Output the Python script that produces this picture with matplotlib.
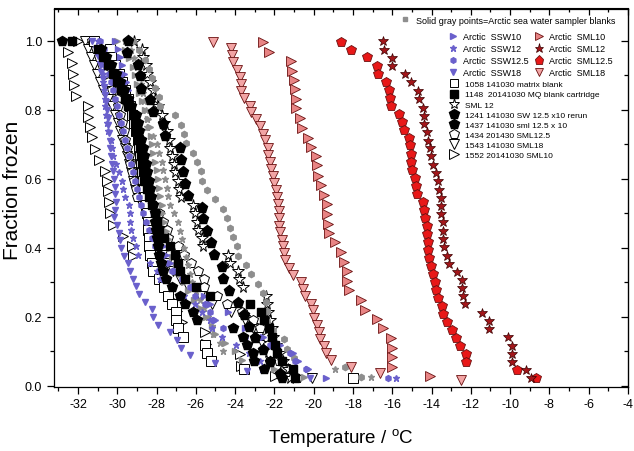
import matplotlib
matplotlib.use("Agg")
import matplotlib.pyplot as plt
from matplotlib.lines import Line2D
from matplotlib.ticker import MultipleLocator

plt.rcParams['font.family'] = ['Liberation Sans', 'DejaVu Sans']

# ---------------- data (Temperature / degC, fraction frozen) ----------------
F42 = [1.000, 0.976, 0.952, 0.929, 0.905, 0.881, 0.857, 0.833, 0.810, 0.786,
       0.762, 0.738, 0.714, 0.690, 0.667, 0.643, 0.619, 0.595, 0.571, 0.548,
       0.524, 0.500, 0.476, 0.452, 0.429, 0.405, 0.381, 0.357, 0.333, 0.310,
       0.286, 0.262, 0.238, 0.214, 0.190, 0.167, 0.143, 0.119, 0.095, 0.071,
       0.048, 0.024]

# Arctic SML12 (dark red stars)
sml12_T = [-16.49, -16.43, -16.02, -15.99, -15.37, -15.07, -14.70, -14.63, -14.46, -14.39,
           -14.36, -14.22, -14.19, -14.09, -14.05, -13.92, -13.75, -13.68, -13.64, -13.54,
           -13.51, -13.51, -13.44, -13.44, -13.41, -13.37, -13.20, -13.10, -12.73, -12.47,
           -12.46, -12.42, -12.29, -11.44, -11.07, -11.07, -10.12, -9.91, -9.91, -9.91,
           -9.20, -8.93]
sml12_F = [0.999, 0.975, 0.951, 0.928, 0.904, 0.880, 0.856, 0.832, 0.807, 0.783,
           0.759, 0.735, 0.711, 0.689, 0.666, 0.641, 0.617, 0.594, 0.569, 0.545,
           0.523, 0.499, 0.474, 0.450, 0.426, 0.402, 0.378, 0.354, 0.331, 0.308,
           0.284, 0.260, 0.237, 0.212, 0.188, 0.165, 0.141, 0.117, 0.093, 0.069,
           0.047, 0.022]

# Arctic SML12.5 (red pentagons)
sml125_T = [-18.60, -18.12, -17.28, -16.77, -16.73, -16.33, -16.16, -16.12, -16.09, -15.65,
            -15.51, -15.41, -15.14, -15.10, -15.07, -15.07, -15.00, -14.83, -14.80, -14.73,
            -14.46, -14.36, -14.32, -14.25, -14.22, -14.19, -14.19, -14.12, -14.02, -13.95,
            -13.82, -13.75, -13.68, -13.48, -13.44, -13.20, -12.97, -12.76, -12.56, -12.25,
            -12.25, -9.67, -8.66]
sml125_F = [0.998, 0.975, 0.952, 0.928, 0.905, 0.882, 0.859, 0.835, 0.812, 0.788,
            0.766, 0.743, 0.720, 0.697, 0.673, 0.650, 0.627, 0.604, 0.581, 0.557,
            0.534, 0.510, 0.488, 0.465, 0.441, 0.418, 0.395, 0.372, 0.347, 0.324,
            0.301, 0.277, 0.254, 0.231, 0.208, 0.185, 0.161, 0.138, 0.115, 0.092,
            0.069, 0.045, 0.022]

# Arctic SML10 (pink right triangles)
sml10_T = [-22.57, -22.26, -21.14, -21.11, -21.01, -20.94, -20.91, -20.91, -20.70, -20.57,
           -20.30, -20.13, -19.89, -19.82, -19.79, -19.62, -19.45, -19.34, -19.31, -19.28,
           -19.24, -18.94, -18.60, -18.46, -18.33, -18.29, -18.19, -17.61, -17.38, -16.80,
           -16.46, -16.09, -16.02, -16.02, -16.02, -14.09]
sml10_F = [0.998, 0.969, 0.943, 0.914, 0.887, 0.860, 0.832, 0.805, 0.776, 0.749,
           0.720, 0.693, 0.666, 0.639, 0.610, 0.583, 0.554, 0.527, 0.498, 0.470,
           0.443, 0.417, 0.388, 0.360, 0.333, 0.304, 0.277, 0.250, 0.221, 0.194,
           0.167, 0.138, 0.111, 0.084, 0.055, 0.028]

# Arctic SML18 (pink down triangles)
sml18_T = [-25.11, -24.23, -24.16, -24.13, -23.92, -23.76, -23.69, -23.69, -23.55, -23.25,
           -23.18, -22.94, -22.74, -22.60, -22.47, -22.33, -22.33, -22.23, -22.16, -22.09,
           -22.03, -21.92, -21.86, -21.82, -21.79, -21.79, -21.75, -21.72, -21.62, -21.55,
           -21.52, -21.45, -21.28, -21.07, -20.64, -20.53, -20.43, -20.16, -20.03, -19.99,
           -19.82, -19.72, -19.68, -19.48, -19.38, -19.14, -18.12, -16.60, -12.50]
sml18_F = [0.998, 0.979, 0.959, 0.938, 0.917, 0.896, 0.876, 0.855, 0.834, 0.812,
           0.793, 0.774, 0.753, 0.731, 0.712, 0.691, 0.670, 0.650, 0.629, 0.610,
           0.588, 0.567, 0.548, 0.527, 0.507, 0.486, 0.465, 0.446, 0.424, 0.405,
           0.386, 0.364, 0.343, 0.322, 0.302, 0.281, 0.260, 0.239, 0.219, 0.198,
           0.177, 0.156, 0.136, 0.117, 0.096, 0.076, 0.055, 0.038, 0.018]

# Arctic SSW10 (blue right triangles)
ssw10_T = [-30.12, -29.95, -29.85, -29.78, -29.65, -29.55, -29.45, -29.35, -29.25, -29.15,
           -29.05, -28.95, -28.85, -28.78, -28.70, -28.62, -28.55, -28.48, -28.40, -28.32,
           -28.25, -28.15, -28.05, -27.95, -27.80, -27.65, -27.50, -27.30, -27.00, -26.60,
           -26.10, -25.60, -25.30, -24.35, -25.03, -23.50, -22.60, -21.72, -21.04, -20.80,
           -20.28, -19.35]
ssw10_F = F42
# Arctic SSW12 (blue stars)
ssw12_T = [-31.00, -30.90, -30.85, -30.80, -30.75, -30.72, -30.68, -30.64, -30.60, -30.56,
           -30.50, -30.46, -30.34, -30.29, -30.20, -30.05, -29.92, -29.78, -29.69, -29.61,
           -29.40, -29.37, -29.33, -29.30, -29.19, -29.05, -28.93, -28.34, -28.00, -27.83,
           -27.20, -26.60, -26.05, -25.70, -25.28, -25.20, -24.69, -23.95, -23.30, -22.74,
           -22.65, -15.82]
ssw12_F = F42
# Arctic SSW12.5 (blue hexagons)
ssw125_T = [-30.90, -30.70, -30.63, -30.50, -30.40, -30.30, -30.20, -30.10, -30.00, -29.90,
            -29.80, -29.70, -29.60, -29.50, -29.40, -29.30, -29.20, -29.10, -29.00, -28.90,
            -28.80, -28.70, -28.55, -28.40, -28.25, -28.10, -27.90, -27.60, -27.20, -26.70,
            -26.30, -26.05, -25.54, -25.28, -25.11, -24.60, -23.50, -22.20, -21.21, -20.96,
            -20.40, -16.20]
ssw125_F = F42
# Arctic SSW18 (blue down triangles)
ssw18_T = [-31.30, -31.10, -31.00, -30.90, -30.83, -30.75, -30.66, -30.60, -30.56, -30.52,
           -30.48, -30.45, -30.42, -30.38, -30.35, -30.30, -30.26, -30.24, -30.17, -30.14,
           -30.10, -30.07, -30.10, -30.17, -30.03, -29.93, -29.88, -29.80, -29.68, -29.47,
           -29.35, -29.18, -29.03, -28.90, -28.60, -28.25, -28.17, -27.95, -27.30, -26.95,
           -26.75, -26.30, -25.00, -23.41, -20.20]
ssw18_F = [1.000, 0.978, 0.956, 0.933, 0.911, 0.889, 0.867, 0.844, 0.822, 0.800,
           0.778, 0.756, 0.733, 0.711, 0.689, 0.667, 0.644, 0.622, 0.600, 0.578,
           0.556, 0.533, 0.511, 0.489, 0.467, 0.444, 0.422, 0.400, 0.378, 0.356,
           0.333, 0.311, 0.289, 0.267, 0.244, 0.222, 0.200, 0.178, 0.156, 0.133,
           0.111, 0.089, 0.067, 0.044, 0.022]

# Sampler blanks (solid gray)
gray_tri_T = [-30.00, -29.60, -29.40, -29.20, -29.10, -29.00, -28.90, -28.75, -28.59, -28.42,
              -28.35, -28.30, -28.22, -28.17, -28.08, -28.00, -27.95, -27.90, -27.80, -27.74,
              -27.70, -27.60, -27.50, -27.40, -27.30, -27.20, -27.00, -26.80, -26.60, -26.40,
              -26.10, -25.80, -25.50, -25.20, -25.03, -24.52, -24.00, -23.67, -22.00, -20.50]
gray_tri_F = [1.000, 0.975, 0.950, 0.925, 0.900, 0.875, 0.850, 0.825, 0.800, 0.775,
              0.750, 0.725, 0.700, 0.675, 0.650, 0.625, 0.600, 0.575, 0.550, 0.525,
              0.500, 0.475, 0.450, 0.425, 0.400, 0.375, 0.350, 0.325, 0.300, 0.275,
              0.250, 0.225, 0.200, 0.175, 0.150, 0.125, 0.100, 0.075, 0.050, 0.025]
gray_star_T = [-29.60, -29.30, -29.15, -29.00, -28.90, -28.80, -28.70, -28.62, -28.55, -28.50,
               -28.47, -28.20, -28.00, -27.85, -27.74, -27.66, -27.57, -27.49, -27.40, -27.32,
               -27.10, -26.90, -26.80, -26.70, -26.60, -26.50, -26.40, -26.30, -26.20, -26.00,
               -25.80, -25.60, -25.37, -25.20, -25.11, -24.77, -24.60, -23.00, -18.94, -17.10]
gray_star_F = gray_tri_F
gray_dot_T = [-29.20, -28.90, -28.60, -28.40, -28.25, -28.08, -27.86, -27.83, -27.06, -26.77,
              -26.61, -26.50, -26.13, -25.93, -25.76, -25.71, -25.42, -25.03, -24.60, -24.43,
              -24.26, -24.10, -23.92, -23.84, -23.45, -23.21, -22.82, -22.57, -22.43, -22.40,
              -22.40, -22.09, -21.52, -21.38, -21.00, -18.41, -17.60]
gray_dot_F = [1.000, 0.973, 0.946, 0.919, 0.892, 0.865, 0.838, 0.811, 0.784, 0.757,
              0.730, 0.703, 0.676, 0.649, 0.622, 0.595, 0.568, 0.541, 0.514, 0.486,
              0.459, 0.432, 0.405, 0.378, 0.351, 0.324, 0.297, 0.270, 0.243, 0.216,
              0.189, 0.162, 0.135, 0.108, 0.081, 0.054, 0.027]

# 1058 141030 matrix blank (open squares)
mb_T = [-31.17, -30.37, -30.32, -30.10, -29.90, -29.75, -29.60, -29.45, -29.35, -29.25,
        -29.15, -29.05, -28.95, -28.90, -28.85, -28.80, -28.75, -28.70, -28.65, -28.60,
        -28.55, -28.50, -28.45, -28.42, -28.40, -28.36, -28.34, -28.25, -28.17, -27.90,
        -27.60, -27.40, -27.20, -27.01, -27.00, -26.90, -26.67, -25.54, -25.45, -25.25,
        -23.57, -18.00]
mb_F = F42
# 1148 20141030 MQ blank cartridge (filled squares)
mq_T = [-32.32, -30.97, -30.71, -30.46, -30.20, -30.03, -29.81, -29.61, -29.47, -29.19,
        -29.10, -29.07, -28.96, -28.84, -28.79, -28.73, -28.68, -28.63, -28.50, -28.39,
        -28.25, -28.08, -28.00, -27.85, -27.60, -27.30, -27.05, -26.90, -26.80, -26.55,
        -26.00, -25.28, -23.25, -22.70, -22.53, -22.30, -22.10, -21.95, -21.86, -21.63,
        -21.04, -20.95]
mq_F = F42
# SML 12 (open stars)
s12_T = [-29.13, -28.76, -28.71, -28.54, -28.47, -28.34, -28.20, -28.08, -27.91, -27.74,
         -27.60, -27.45, -27.35, -27.30, -27.20, -27.12, -27.05, -26.90, -26.84, -26.77,
         -26.13, -26.05, -25.96, -25.88, -25.71, -25.62, -24.35, -24.26, -23.84, -23.79,
         -23.59, -22.45, -22.40, -22.32, -22.23, -22.14, -22.06, -21.90, -21.70, -21.55,
         -21.30, -21.20]
s12_F = F42
# 1241 141030 SW 12.5 x10 rerun (filled pentagons)
sw125_T = [-29.47, -29.49, -28.93, -28.84, -28.81, -28.34, -28.17, -27.69, -27.57, -26.81,
           -26.77, -26.64, -26.54, -26.39, -25.71, -25.62, -25.45, -25.25, -25.08, -24.69,
           -24.60, -24.30, -23.84, -23.55, -23.30, -23.00, -22.60, -22.20, -21.70]
sw125_F = [1.000, 0.966, 0.931, 0.897, 0.862, 0.828, 0.793, 0.759, 0.724, 0.690,
           0.655, 0.621, 0.586, 0.552, 0.517, 0.483, 0.448, 0.414, 0.379, 0.345,
           0.310, 0.276, 0.241, 0.207, 0.172, 0.138, 0.103, 0.069, 0.034]
# 1437 141030 sml 12.5 x 10 (filled pentagons)
sm125_T = [-32.83, -30.85, -30.55, -30.30, -30.05, -29.85, -29.65, -29.45, -29.30, -29.05,
           -28.95, -28.90, -28.80, -28.70, -28.62, -28.55, -28.48, -28.40, -28.35, -28.30,
           -28.20, -28.10, -28.10, -28.05, -27.98, -27.91, -27.85, -27.79, -27.69, -27.52,
           -27.20, -26.80, -26.55, -26.16, -25.96, -24.10, -23.59, -23.38, -23.11, -23.04,
           -22.53, -21.63]
sm125_F = F42
# 1434 201430 SML12.5 (open pentagons)
o125_T = [-31.30, -31.10, -30.95, -30.80, -30.63, -30.45, -30.25, -30.03, -29.95, -29.85,
          -29.75, -29.68, -29.60, -29.50, -29.42, -29.35, -29.27, -29.15, -29.05, -29.01,
          -28.50, -27.90, -27.66, -27.46, -27.40, -26.90, -26.61, -26.27, -25.88, -25.59,
          -25.59, -24.94, -24.40, -23.67, -23.08, -22.74, -22.37, -22.32, -22.23, -21.76,
          -21.47, -20.87]
o125_F = F42
# 1543 141030 SML18 (open down triangles)
o18_T = [-31.64, -31.48, -31.34, -31.17, -31.05, -30.88, -30.71, -30.46, -30.25, -30.12,
         -29.95, -29.86, -29.78, -29.61, -29.52, -29.40, -29.30, -29.19, -29.10, -28.93,
         -28.73, -28.55, -28.42, -28.30, -28.10, -27.91, -27.70, -27.45, -27.15, -26.80,
         -26.40, -25.80, -25.20, -24.20, -23.50, -23.10, -22.82, -22.60, -22.40, -22.23,
         -21.47, -20.11]
o18_F = F42
# 1552 20141030 SML10 (open right triangles)
o10_T = [-31.98, -32.52, -32.29, -32.24, -32.19, -32.12, -31.51, -31.48, -31.39, -31.30,
         -31.13, -30.93, -30.63, -30.54, -30.46, -30.42, -30.36, -30.20, -29.69, -29.27,
         -29.22, -28.00, -27.70, -27.40, -27.20, -26.95, -26.68, -25.54, -25.49, -23.76,
         -23.72, -21.95]
o10_F = [1.000, 0.967, 0.935, 0.904, 0.873, 0.841, 0.812, 0.781, 0.750, 0.721,
         0.687, 0.655, 0.624, 0.595, 0.564, 0.532, 0.502, 0.467, 0.436, 0.405,
         0.376, 0.345, 0.314, 0.281, 0.250, 0.218, 0.186, 0.156, 0.122, 0.093,
         0.059, 0.028]

x_ticks = [-32, -30, -28, -26, -24, -22, -20, -18, -16, -14, -12, -10, -8, -6, -4]
y_ticks = [0.0, 0.2, 0.4, 0.6, 0.8, 1.0]

# ---------------- styles ----------------
BLUE = '#6a60cc'
GRAY = '#8e8e8e'
PINK = '#f2a4a4'
SALMON = '#e88484'
RED = '#e81818'
DRED = '#a3161a'
EDGE = '#6a1010'

fig = plt.figure(figsize=(6.34, 4.52), dpi=100)
ax = fig.add_axes([54 / 634, 1 - 387.5 / 452, (628 - 54) / 634, (387.5 - 9.5) / 452])


def pts(T, F, **kw):
    ax.plot(T, F, linestyle='none', **kw)


open_kw = dict(mfc='white', mec='black', mew=0.7)
# open markers
pts(o10_T, o10_F, marker='>', ms=7.5, **open_kw)
pts(o18_T, o18_F, marker='v', ms=7.5, **open_kw)
pts(o125_T, o125_F, marker='p', ms=7.5, **open_kw)
pts(mb_T, mb_F, marker='s', ms=6.5, **open_kw)
pts(s12_T, s12_F, marker='*', ms=8.5, **open_kw)
# gray sampler blanks
pts(gray_tri_T, gray_tri_F, marker='>', ms=4.5, color=GRAY, mec=GRAY)
pts(gray_star_T, gray_star_F, marker='*', ms=5.0, color=GRAY, mec=GRAY)
pts(gray_dot_T, gray_dot_F, marker='h', ms=4.5, color=GRAY, mec=GRAY)
# blue SSW
pts(ssw10_T, ssw10_F, marker='>', ms=4.2, color=BLUE, mec=BLUE)
pts(ssw12_T, ssw12_F, marker='*', ms=4.8, color=BLUE, mec=BLUE)
pts(ssw125_T, ssw125_F, marker='h', ms=4.2, color=BLUE, mec=BLUE)
pts(ssw18_T, ssw18_F, marker='v', ms=4.5, color=BLUE, mec=BLUE)
# filled black
pts(mq_T, mq_F, marker='s', ms=6.0, color='black', mec='black')
pts(sm125_T, sm125_F, marker='p', ms=7.5, color='black', mec='black')
pts(sw125_T, sw125_F, marker='p', ms=8.0, color='black', mec='black')
# Arctic SML
red_kw = dict(mec=EDGE, mew=0.6)
pts(sml10_T, sml10_F, marker='>', ms=6.5, mfc=SALMON, **red_kw)
pts(sml18_T, sml18_F, marker='v', ms=6.5, mfc=PINK, **red_kw)
pts(sml125_T, sml125_F, marker='p', ms=7.0, mfc=RED, **red_kw)
pts(sml12_T, sml12_F, marker='*', ms=7.5, mfc=DRED, mec='#3a0000', mew=0.5)

# ---------------- axes ----------------
ax.set_xlim(-33.22, -4)
ax.set_ylim(-0.0015, 1.094)
ax.set_xticks(x_ticks)
ax.set_xticklabels([str(v) for v in x_ticks])
ax.set_yticks(y_ticks)
ax.set_yticklabels([f'{v:.1f}' for v in y_ticks])
ax.xaxis.set_minor_locator(MultipleLocator(1))
ax.yaxis.set_minor_locator(MultipleLocator(0.1))
ax.tick_params(which='both', labelsize=9, width=0.9, colors='black', direction='out',
               top=False, right=False)
ax.tick_params(which='major', length=5)
ax.tick_params(which='minor', length=3)
secx = ax.secondary_xaxis('top')
secx.set_xticks(x_ticks)
secx.xaxis.set_minor_locator(MultipleLocator(1))
secx.tick_params(which='both', direction='in', labeltop=False, width=0.9)
secx.tick_params(which='major', length=5)
secx.tick_params(which='minor', length=3)
secy = ax.secondary_yaxis('right')
secy.set_yticks(y_ticks)
secy.yaxis.set_minor_locator(MultipleLocator(0.1))
secy.tick_params(which='both', direction='in', labelright=False, width=0.9)
secy.tick_params(which='major', length=5)
secy.tick_params(which='minor', length=3)
for s in ax.spines.values():
    s.set_linewidth(0.9)

ax.set_xlabel('Temperature / $\\mathregular{^{o}}$C', fontsize=13.5, labelpad=11)
ax.set_ylabel('Fraction frozen', fontsize=15)
ax.yaxis.set_label_coords(-0.056, (387.5 - 190) / 378.0)

# ---------------- legends ----------------
def h(marker, ms, **kw):
    return Line2D([], [], linestyle='none', marker=marker, markersize=ms, **kw)

lg_common = dict(frameon=False, borderpad=0, borderaxespad=0, handlelength=1.0,
                 loc='upper left')

ax_w, ax_h = 574.0, 378.0
def axfrac(px, py):
    return ((px - 54) / ax_w, (387.5 - py) / ax_h)

leg1 = ax.legend([h('s', 3.5, color=GRAY, mec=GRAY)],
                 ['Solid gray points=Arctic sea water sampler blanks'],
                 bbox_to_anchor=axfrac(400.5, 16.6), prop={'size': 6.5},
                 handletextpad=0.72, **lg_common)
ax.add_artist(leg1)

h2 = [h('>', 4.0, color=BLUE, mec=BLUE), h('*', 4.5, color=BLUE, mec=BLUE),
      h('h', 4.0, color=BLUE, mec=BLUE), h('v', 4.0, color=BLUE, mec=BLUE),
      h('>', 6.0, mfc=SALMON, **red_kw), h('*', 6.5, mfc=DRED, mec='#3a0000', mew=0.5),
      h('p', 6.5, mfc=RED, **red_kw), h('v', 6.0, mfc=PINK, **red_kw)]
l2 = ['Arctic  SSW10', 'Arctic  SSW12', 'Arctic  SSW12.5', 'Arctic  SSW18',
      'Arctic  SML10', 'Arctic  SML12', 'Arctic  SML12.5', 'Arctic  SML18']
leg2 = ax.legend(h2, l2, ncol=2, bbox_to_anchor=axfrac(448.2, 33.5),
                 prop={'size': 6.5}, handletextpad=0.61, columnspacing=0.69,
                 labelspacing=0.33, **lg_common)
ax.add_artist(leg2)

h3 = [h('s', 6.0, **open_kw), h('s', 6.0, color='black'), h('*', 8.0, **open_kw),
      h('p', 7.0, color='black'), h('p', 7.0, color='black'), h('p', 7.0, **open_kw),
      h('v', 7.0, **open_kw), h('>', 7.0, **open_kw)]
l3 = ['1058 141030 matrix blank', '1148  20141030 MQ blank cartridge', 'SML 12',
      '1241 141030 SW 12.5 x10 rerun', '1437 141030 sml 12.5 x 10',
      '1434 201430 SML12.5', '1543 141030 SML18', '1552 20141030 SML10']
leg3 = ax.legend(h3, l3, bbox_to_anchor=axfrac(449.8, 81.5), prop={'size': 6.0},
                 handletextpad=0.83, labelspacing=0.27, **lg_common)

fig.savefig('out.png', dpi=100)
